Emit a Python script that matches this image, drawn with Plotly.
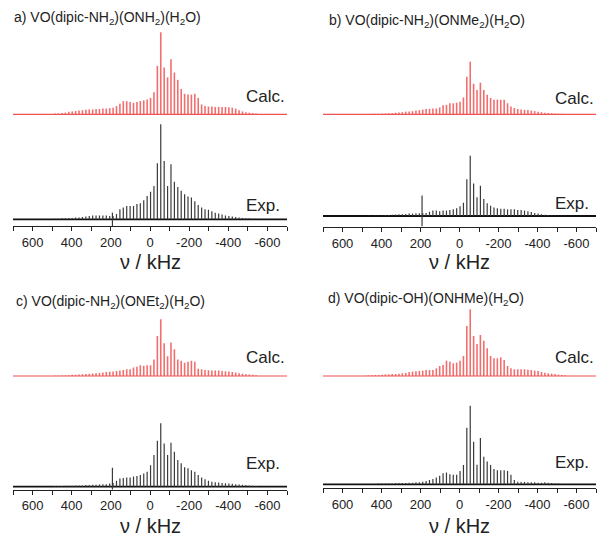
import plotly.graph_objects as go

# ---------------- data ----------------
# spinning-sideband positions, kHz
sideband_khz = [484.4, 467.0, 449.6, 432.2, 414.8, 397.4, 380.0, 362.6, 345.2, 327.8,
                310.4, 293.0, 275.6, 258.2, 240.8, 223.4, 206.0, 188.6, 171.2, 153.8,
                136.4, 119.0, 101.6, 84.2, 66.8, 49.4, 32.0, 14.6, -2.8, -20.2,
                -37.6, -55.0, -72.4, -89.8, -107.2, -124.6, -142.0, -159.4, -176.8, -194.2,
                -211.6, -229.0, -246.4, -263.8, -281.2, -298.6, -316.0, -333.4, -350.8, -368.2,
                -385.6, -403.0, -420.4, -437.8, -455.2, -472.6, -490.0, -507.4, -524.8, -542.2]

# relative intensities (% of the tallest sideband)
calc_a = [1, 1, 1.5, 2, 3, 3.5, 4, 4.5, 5, 5.5,
          6, 6, 6.5, 6.5, 7, 7, 7.5, 8, 10, 13,
          16, 16, 15, 14, 15, 16, 17, 18, 20, 27,
          59, 100, 57, 45, 67, 51, 42, 31, 25, 24,
          24, 25, 20, 12, 10, 9.5, 9.5, 9, 9, 9,
          9, 8.5, 8, 7, 5, 3.5, 2.5, 2, 1.5, 1]
exp_a = [0.5, 0.5, 1, 1, 1.5, 1.5, 2, 2, 2.5, 3,
         3.5, 4, 4, 4, 4, 4, 3.5, 3.5, 5.5, 10.5,
         12.5, 14, 14, 14, 16, 17, 20, 24.5, 29, 35,
         59, 100, 61.5, 35, 58, 39.5, 34, 30, 26.5, 24,
         23, 19, 15, 12.5, 10.5, 10, 8.5, 7, 6, 5,
         4, 3.5, 3, 2.5, 2, 1.5, 1, 1, 0.5, 0.5]
calc_b = [0.5, 0.5, 1, 1, 1, 1.5, 1.5, 2, 2.5, 3,
          3.5, 4, 5, 5.5, 6, 7, 8, 9, 10, 10.5,
          11, 11, 13, 17, 18, 21, 21, 22, 24, 32,
          71.5, 100, 58, 46, 60, 46, 37, 31, 27.5, 28,
          27.5, 27.5, 21, 15, 12, 10, 9, 8.5, 8, 7,
          6, 5, 4, 3, 2.5, 2, 1.5, 1, 1, 0.5]
exp_b = [0.5, 0.5, 0.5, 1, 1, 1, 1.5, 1.5, 2, 2.5,
         3, 3, 3.5, 4, 4, 4.5, 4.5, 5, 5, 7,
         9, 9, 8, 9, 9, 10, 11, 13, 16, 22,
         61, 100, 54, 31, 50, 28, 21, 17, 14, 13,
         12, 12, 11, 11, 11, 10, 10, 9, 8, 6.5,
         5, 4, 3, 2, 1.5, 1, 1, 0.5, 0.5, 0.5]
calc_c = [0.5, 0.5, 1, 1, 1.5, 2, 2, 2.5, 3, 3.5,
          4, 4.5, 5, 5.5, 6, 7, 7.5, 8, 9, 9.5,
          10.5, 12, 12, 15, 16.5, 19, 18, 19, 19, 29,
          70.6, 100, 57.6, 35, 59, 47, 29, 27, 23.5, 25,
          27, 25, 13, 12, 10.5, 10, 9.5, 9.5, 9.5, 9,
          8.5, 8, 7, 6, 5, 4, 3, 2.5, 2, 1.5]
exp_c = [1, 1, 1, 1.5, 1.5, 1.5, 2, 2, 2, 2.5,
         2.5, 3, 3, 3.5, 4, 4, 5, 6, 9.5, 13,
         13.7, 14.7, 14.7, 16, 17, 18.4, 21, 23.7, 34, 50,
         72.6, 100, 68, 50, 69.5, 55, 42, 37, 30.5, 29,
         26, 23.7, 18.4, 14.7, 11.6, 9.5, 8, 7, 6.5, 6,
         5.5, 5, 4.5, 4, 3.5, 3, 2.5, 2, 1.5, 1]
calc_d = [0.5, 1, 1, 1.5, 1.5, 2, 2.5, 2.5, 3, 3,
          3.5, 4, 4.5, 6, 6.5, 7, 7.5, 8, 9, 9,
          9, 11.5, 15, 16.5, 23, 21.5, 19, 20, 23, 30,
          75, 100, 60, 48, 61.5, 53, 41.5, 30, 26.5, 26.5,
          28, 24, 15, 11.5, 10, 10, 10, 10, 9.5, 9,
          8, 7.5, 6, 5, 4, 3.5, 3, 2, 1.5, 1]
exp_d = [0.5, 0.5, 0.5, 0.5, 1, 1, 1, 1, 1, 1.5,
         1.5, 1.5, 1.5, 2, 2, 2.5, 2.5, 3.4, 4.2, 5.5,
         6.8, 8.5, 11, 14, 15, 12.7, 12, 12, 17, 24.6,
         72, 100, 54, 25, 59, 35, 29, 24.6, 19.5, 18,
         18, 18, 17, 12, 5.5, 3.4, 3, 3, 2.5, 2.5,
         2.5, 2, 2, 2.5, 2, 1.5, 1, 1, 0.5, 0.5]

# artefact spike in the experimental spectra (kHz, % up, % down)
spike_khz = 192
spike_up = [7, 34, 30, 0]
spike_down = [-8, -17, -21, 0]

panel_titles = ["a) VO(dipic-NH<sub>2</sub>)(ONH<sub>2</sub>)(H<sub>2</sub>O)",
                "b) VO(dipic-NH<sub>2</sub>)(ONMe<sub>2</sub>)(H<sub>2</sub>O)",
                "c) VO(dipic-NH<sub>2</sub>)(ONEt<sub>2</sub>)(H<sub>2</sub>O)",
                "d) VO(dipic-OH)(ONHMe)(H<sub>2</sub>O)"]
tick_values = [600, 400, 200, 0, -200, -400, -600]
tick_labels = ["600", "400", "200", "0", "-200", "-400", "-600"]
x_title = "ν / kHz"

# ---------------- layout geometry (pixels) ----------------
W, H = 597, 537
FONT = "Liberation Sans, Arial, Helvetica, sans-serif"
panels = [
    dict(x0=13, x1=287, axisY=226, topY=0, eb=6.7, es=0.95, cb=111.7, cs=0.82,
         tX=12, tY=18, xtY=262, calcY=97, expY=205),
    dict(x0=323, x1=596, axisY=227, topY=0, eb=11, es=0.603, cb=112.7, cs=0.526,
         tX=327, tY=21, xtY=262, calcY=98, expY=203),
    dict(x0=13, x1=287, axisY=489.5, topY=270, eb=2.8, es=0.634, cb=113.5, cs=0.567,
         tX=14, tY=302, xtY=526, calcY=357, expY=463),
    dict(x0=323, x1=596, axisY=488, topY=270, eb=3.7, es=0.786, cb=112, cs=0.667,
         tX=326, tY=299, xtY=526, calcY=357, expY=462),
]
calcs = [calc_a, calc_b, calc_c, calc_d]
exps = [exp_a, exp_b, exp_c, exp_d]


def sticks(xs, hs, base, scale):
    x, y = [], []
    for p, h in zip(xs, hs):
        x += [p, p, None]
        y += [base, base + h * scale, None]
    return x, y


fig = go.Figure()
annotations = []
for i, P in enumerate(panels):
    k = "" if i == 0 else str(i + 1)
    xa, ya = "x" + k, "y" + k
    # calculated spectrum
    fig.add_trace(go.Scatter(x=[700, -700], y=[P["cb"], P["cb"]], mode="lines",
                             line=dict(color="#f05050", width=1.2), xaxis=xa, yaxis=ya,
                             hoverinfo="skip", showlegend=False))
    sx, sy = sticks(sideband_khz, calcs[i], P["cb"], P["cs"])
    fig.add_trace(go.Scatter(x=sx, y=sy, mode="lines",
                             line=dict(color="rgba(240,85,85,0.85)", width=1.6),
                             xaxis=xa, yaxis=ya, showlegend=False))
    # experimental spectrum
    fig.add_trace(go.Scatter(x=[700, -700], y=[P["eb"], P["eb"]], mode="lines",
                             line=dict(color="#111111", width=1.8), xaxis=xa, yaxis=ya,
                             hoverinfo="skip", showlegend=False))
    sx, sy = sticks(sideband_khz, exps[i], P["eb"], P["es"])
    fig.add_trace(go.Scatter(x=sx, y=sy, mode="lines",
                             line=dict(color="#3a3a3a", width=1.2),
                             xaxis=xa, yaxis=ya, showlegend=False))
    if spike_up[i] or spike_down[i]:
        fig.add_trace(go.Scatter(x=[spike_khz, spike_khz],
                                 y=[P["eb"] + spike_down[i] * P["es"], P["eb"] + spike_up[i] * P["es"]],
                                 mode="lines", line=dict(color="#3a3a3a", width=1.2),
                                 xaxis=xa, yaxis=ya, showlegend=False))

    fig.layout["xaxis" + k] = dict(
        domain=[P["x0"] / W, P["x1"] / W], anchor=ya, range=[700, -700],
        showline=True, linecolor="#222", linewidth=1, mirror=False,
        ticks="outside", ticklen=4, tickcolor="#222", tickwidth=1,
        tickmode="array", tickvals=tick_values, ticktext=tick_labels,
        minor=dict(ticks="outside", dtick=100, tick0=0, ticklen=4, tickcolor="#222", tickwidth=1),
        tickfont=dict(family=FONT, size=13, color="#222"),
        showgrid=False, zeroline=False, fixedrange=True)
    fig.layout["yaxis" + k] = dict(
        domain=[1 - P["axisY"] / H, 1 - P["topY"] / H], anchor=xa,
        range=[0, P["axisY"] - P["topY"]], visible=False, fixedrange=True)

    annotations.append(dict(text=panel_titles[i], xref="paper", yref="paper",
                            x=P["tX"] / W, y=1 - P["tY"] / H, xanchor="left", yanchor="middle",
                            showarrow=False, font=dict(family=FONT, size=14, color="#222")))
    annotations.append(dict(text="Calc.", xref="paper", yref="paper",
                            x=P["x1"] / W, y=1 - P["calcY"] / H,
                            xanchor="right", yanchor="middle", showarrow=False,
                            font=dict(family=FONT, size=17, color="#222")))
    annotations.append(dict(text="Exp.", xref="paper", yref="paper",
                            x=(P["x1"] - 5) / W, y=1 - P["expY"] / H,
                            xanchor="right", yanchor="middle", showarrow=False,
                            font=dict(family=FONT, size=17, color="#222")))
    annotations.append(dict(text=x_title, xref="paper", yref="paper",
                            x=(P["x0"] + P["x1"]) / 2 / W, y=1 - P["xtY"] / H,
                            xanchor="center", yanchor="middle", showarrow=False,
                            font=dict(family=FONT, size=20, color="#222")))

fig.update_layout(width=W, height=H, margin=dict(l=0, r=0, t=0, b=0),
                  paper_bgcolor="white", plot_bgcolor="white",
                  annotations=annotations, showlegend=False, hovermode=False)
fig.write_html("out.html", config={"displayModeBar": False, "staticPlot": True})

# remove the browser's default page margin so the figure fills the window exactly
with open("out.html", encoding="utf-8") as f:
    page = f.read()
page = page.replace("<head>", "<head><style>html,body{margin:0;padding:0;overflow:hidden;}</style>", 1)
with open("out.html", "w", encoding="utf-8") as f:
    f.write(page)
